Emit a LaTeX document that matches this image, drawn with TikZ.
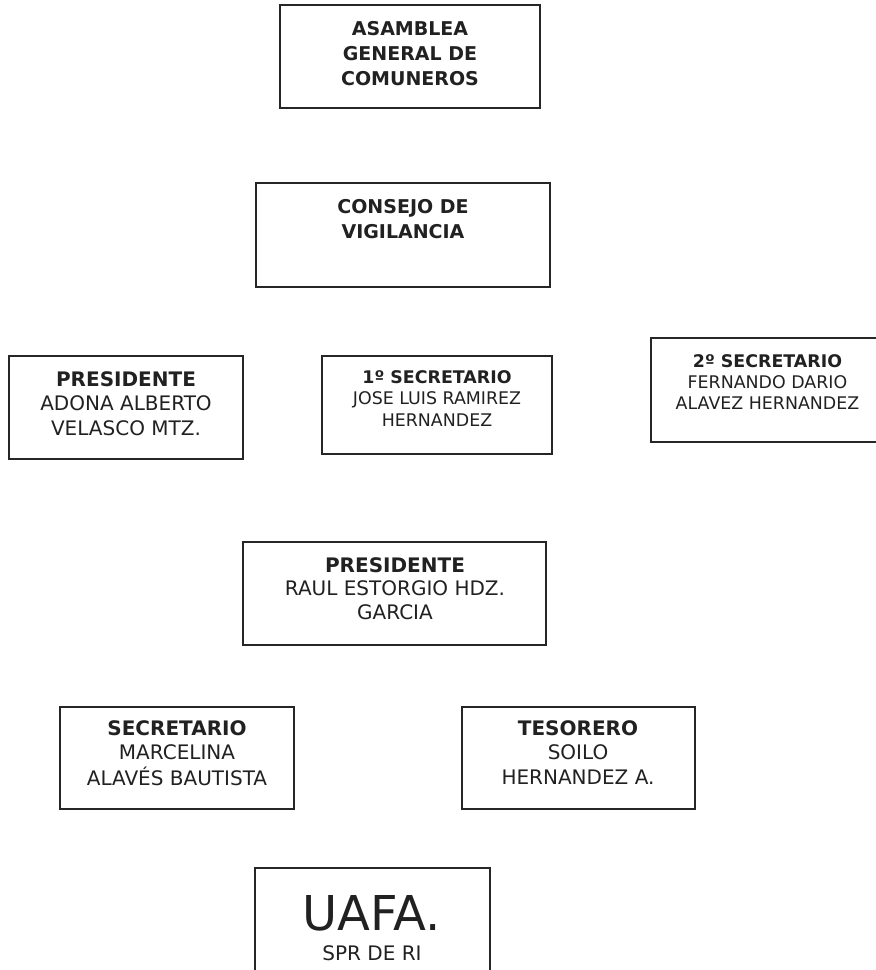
\documentclass[tikz,border=0pt]{standalone}
\usepackage{fontspec}
\setmainfont{DejaVu Sans}
\newcommand{\tb}[3]{{\fontsize{#1}{#2}\selectfont\setlength{\tabcolsep}{0pt}\begin{tabular}[t]{c}#3\end{tabular}}}
\begin{document}
\begin{tikzpicture}[x=1pt,y=-1pt,
  frame/.style={draw=black!85, line width=1.6pt, anchor=north west, inner sep=0pt, outer sep=0pt},
  txt/.style={anchor=base, inner sep=0pt, outer sep=0pt, text=black!87}]
\useasboundingbox (0,0) rectangle (876,970);
\fill[white] (0,0) rectangle (876,970);
\clip (0,0) rectangle (876,970);
% boxes
\node[frame, minimum width=260pt, minimum height=103pt] (asamblea) at (280,5) {};
\node[frame, minimum width=294pt, minimum height=104pt] (consejo) at (256,183) {};
\node[frame, minimum width=234pt, minimum height=103pt] (presA) at (9,356) {};
\node[frame, minimum width=230pt, minimum height=98pt] (sec1) at (322,356) {};
\node[frame, minimum width=233pt, minimum height=104pt] (sec2) at (651,338) {};
\node[frame, minimum width=303pt, minimum height=103pt] (presB) at (243,542) {};
\node[frame, minimum width=234pt, minimum height=102pt] (secr) at (60,707) {};
\node[frame, minimum width=233pt, minimum height=102pt] (teso) at (462,707) {};
\node[frame, minimum width=235pt, minimum height=120pt] (uafa) at (255,868) {};
% texts
\node[txt] (tasamblea) at (410,35) {\tb{19}{25}{\bfseries ASAMBLEA\\\bfseries GENERAL DE\\\bfseries COMUNEROS}};
\node[txt] (tconsejo) at (403,213) {\tb{19}{25}{\bfseries CONSEJO DE\\\bfseries VIGILANCIA}};
\node[txt] (tpresA) at (126,386) {\tb{20}{24.5}{\bfseries PRESIDENTE\\ADONA ALBERTO\\VELASCO MTZ.}};
\node[txt] (tsec1) at (437,383) {\tb{17.4}{21.5}{\bfseries 1º SECRETARIO\\JOSE LUIS RAMIREZ\\HERNANDEZ}};
\node[txt] (tsec2) at (767.5,367) {\tb{17.4}{21}{\bfseries 2º SECRETARIO\\FERNANDO DARIO\\ALAVEZ HERNANDEZ}};
\node[txt] (tpresB) at (395,572) {\tb{20}{23.5}{\bfseries PRESIDENTE\\RAUL ESTORGIO HDZ.\\GARCIA}};
\node[txt] (tsecr) at (177,735) {\tb{20}{24.5}{\bfseries SECRETARIO\\MARCELINA\\ALAVÉS BAUTISTA}};
\node[txt] (tteso) at (578,735) {\tb{20}{24.5}{\bfseries TESORERO\\SOILO\\HERNANDEZ A.}};
\node[txt] (tuafa) at (372,930) {\fontsize{48}{50}\selectfont UAFA.};
\node[txt] (tspr) at (372,960) {\fontsize{20}{24}\selectfont SPR DE RI};
\end{tikzpicture}
\end{document}
